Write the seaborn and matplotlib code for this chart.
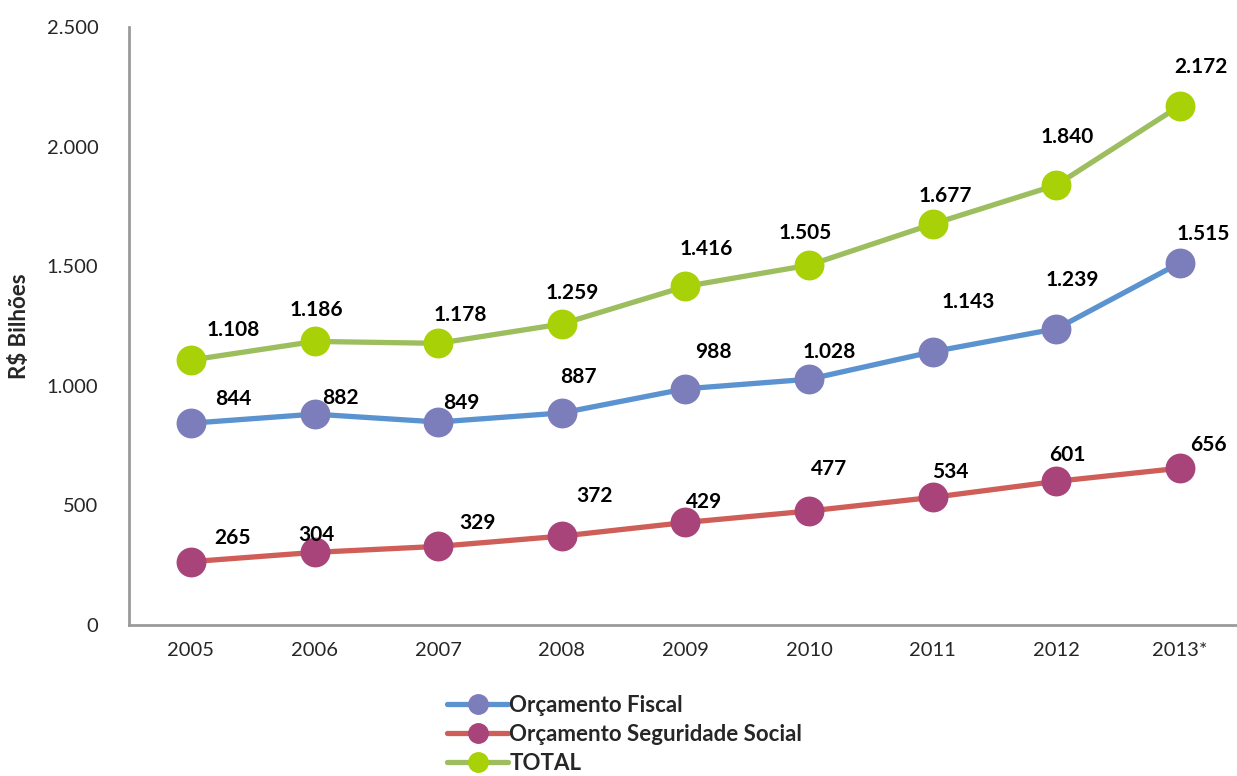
import matplotlib
matplotlib.use("Agg")
import matplotlib.pyplot as plt
import seaborn as sns
import pandas as pd
from matplotlib.lines import Line2D

years = ["2005", "2006", "2007", "2008", "2009", "2010", "2011", "2012", "2013*"]
fiscal = [844, 882, 849, 887, 988, 1028, 1143, 1239, 1515]
social = [265, 304, 329, 372, 429, 477, 534, 601, 656]
total = [1108, 1186, 1178, 1259, 1416, 1505, 1677, 1840, 2172]
series_names = ["Orçamento Fiscal", "Orçamento Seguridade Social", "TOTAL"]
y_ticks = [0, 500, 1000, 1500, 2000, 2500]

def fmt(v):
    return f"{v:,}".replace(",", ".")

sns.set_theme(style="white")
plt.rcParams["font.family"] = ["Lato", "DejaVu Sans"]

fig = plt.figure(figsize=(12.37, 7.76), dpi=100)
ax = fig.add_axes([0.1043, 0.1945, 0.8957, 0.7705])

styles = [
    dict(line="#5A93CF", marker="#7C7EBB"),
    dict(line="#CF5E58", marker="#A8447A"),
    dict(line="#9DBE5E", marker="#A8D108"),
]
label_offsets = [
    [(42, 24), (26, 16), (23, 19), (17, 36), (28, 37), (20, 27), (35, 50), (16, 49), (23, 29)],
    [(42, 24), (2, 17), (39, 23), (33, 40), (19, 20), (20, 42), (17, 25), (11, 26), (28, 23)],
    [(42, 30), (2, 31), (22, 28), (10, 31), (21, 37), (-4, 32), (13, 28), (11, 48), (21, 39)],
]

handles = []
for name, vals, st, offs in zip(series_names, [fiscal, social, total], styles, label_offsets):
    df = pd.DataFrame({"x": range(len(years)), "y": vals})
    sns.lineplot(data=df, x="x", y="y", ax=ax, color=st["line"], linewidth=3.8,
                 marker="o", markersize=20, markerfacecolor=st["marker"],
                 markeredgecolor=st["marker"], markeredgewidth=1.5, zorder=3)
    for i, v in enumerate(vals):
        ax.annotate(fmt(v), (i, v), xytext=offs[i], textcoords="offset pixels",
                    ha="center", va="center", fontsize=15, fontweight="bold",
                    color="black", zorder=5)
    handles.append(Line2D([0], [0], color=st["line"], linewidth=3.8, marker="o",
                          markersize=14, markerfacecolor=st["marker"],
                          markeredgecolor=st["marker"]))

ax.set_xlim(-0.5, 8.46)
ax.set_ylim(0, 2500)
ax.set_xticks(range(len(years)))
ax.set_xticklabels(years, fontsize=14.5)
ax.set_yticks(y_ticks)
ax.set_yticklabels([fmt(t) for t in y_ticks], fontsize=14.5)
ax.tick_params(axis="both", length=0, pad=12)
ax.tick_params(axis="y", pad=22)
ax.set_xlabel("")
ax.set_ylabel("R$ Bilhões", fontsize=16, fontweight="bold", labelpad=12)
for s in ["top", "right"]:
    ax.spines[s].set_visible(False)
for s in ["left", "bottom"]:
    ax.spines[s].set_color("#9A9A9A")
    ax.spines[s].set_linewidth(2)

fig.legend(handles, series_names, loc="upper left",
           bbox_to_anchor=(447 / 1237, 1 - 695 / 776), frameon=False,
           prop=dict(size=16, weight="bold"), handlelength=2.75, handletextpad=0.05,
           labelspacing=0.36, borderpad=0, borderaxespad=0, numpoints=1)

fig.savefig("out.png", dpi=100)
